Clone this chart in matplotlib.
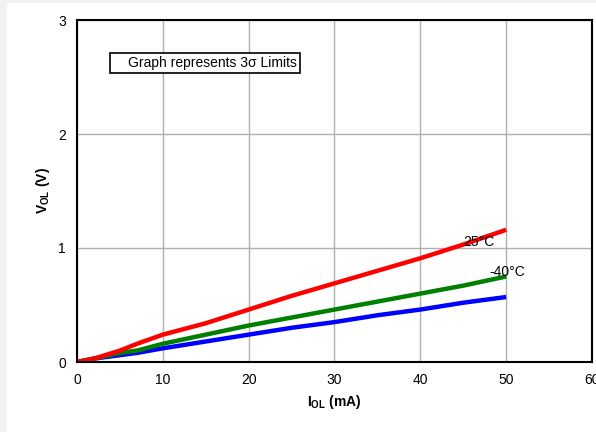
import numpy as np
import matplotlib.pyplot as plt

plt.rcParams['font.family'] = ['Liberation Sans', 'DejaVu Sans']
plt.rcParams['mathtext.fontset'] = 'custom'
plt.rcParams['mathtext.rm'] = 'Liberation Sans'
plt.rcParams['mathtext.bf'] = 'Liberation Sans:bold'

# I_OL (mA) and V_OL (V)
iol = [0, 2, 5, 7, 10, 15, 20, 25, 30, 35, 40, 45, 50]
vol_25c = [0.0, 0.03, 0.10, 0.16, 0.24, 0.34, 0.46, 0.58, 0.69, 0.80, 0.91, 1.03, 1.16]
vol_m40c = [0.0, 0.03, 0.08, 0.10, 0.16, 0.24, 0.32, 0.39, 0.46, 0.53, 0.60, 0.67, 0.75]
vol_blue = [0.0, 0.03, 0.06, 0.08, 0.12, 0.18, 0.24, 0.30, 0.35, 0.41, 0.46, 0.52, 0.57]

fig = plt.figure(figsize=(5.96, 4.32), dpi=100, facecolor='white')
# light gray frame strips on the left and top
fig.patches.append(plt.Rectangle((0, 0), 7/596, 1, transform=fig.transFigure,
                                 facecolor='#f2f2f2', edgecolor='none'))
fig.patches.append(plt.Rectangle((0, 1 - 3/432), 1, 3/432, transform=fig.transFigure,
                                 facecolor='#f2f2f2', edgecolor='none'))
ax = fig.add_axes([77/596, 1 - 362/432, 515/596, 342/432])
ax.set_zorder(2)

ax.plot(iol, vol_blue, color='#0000ff', lw=3.2, solid_capstyle='butt')
ax.plot(iol, vol_m40c, color='#008000', lw=3.2, solid_capstyle='butt')
ax.plot(iol, vol_25c, color='#ff0000', lw=3.2, solid_capstyle='butt')

ax.text(45.0, 1.05, '25°C', fontsize=10, va='center')
ax.text(48.1, 0.79, '-40°C', fontsize=10, va='center')

# note box
ax.add_patch(plt.Rectangle((3.85, 2.535), 22.1, 0.175, facecolor='white',
                           edgecolor='black', lw=1.2, zorder=3))
ax.text(5.95, 2.622, 'Graph represents 3σ Limits', fontsize=10, va='center', zorder=4)

ax.set_xlim(0, 60)
ax.set_ylim(0, 3)
ax.set_xticks([0, 10, 20, 30, 40, 50, 60])
ax.set_yticks([0, 1, 2, 3])
ax.grid(True, color='#b0b0b0', lw=1)
ax.set_axisbelow(True)
ax.tick_params(length=0, labelsize=10, pad=8)
for s in ax.spines.values():
    s.set_linewidth(1.5)

ax.set_xlabel(r'$\mathbf{I}_{\mathbf{OL}}$ (mA)', fontsize=10, fontweight='bold', labelpad=4)
ax.set_ylabel(r'$\mathbf{V}_{\mathbf{OL}}$ (V)', fontsize=10, fontweight='bold', labelpad=4)

fig.savefig('out.png', dpi=100, facecolor=fig.get_facecolor())
